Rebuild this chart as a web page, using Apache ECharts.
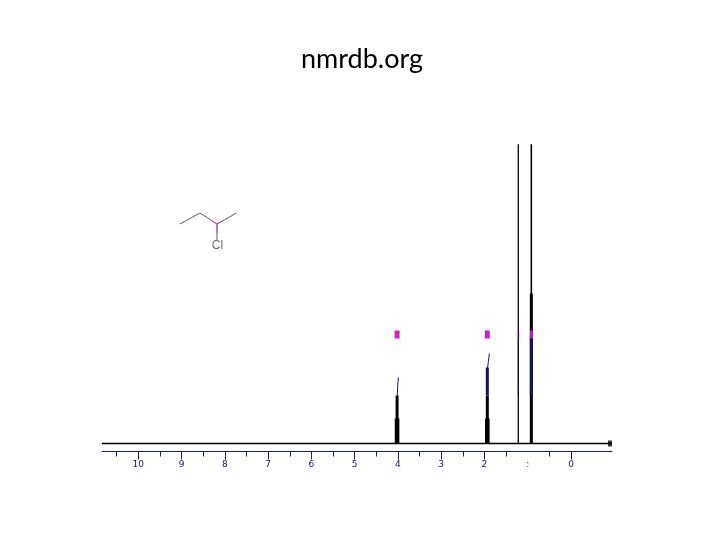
<!DOCTYPE html>
<html><head><meta charset="utf-8">
<style>html,body{margin:0;padding:0;background:#fff}#c{width:720px;height:540px}</style>
<script src="https://cdn.jsdelivr.net/npm/echarts@6/dist/echarts.min.js"></script>
</head><body><div id="c"></div>
<script>
// Chemical shift ticks (ppm) and labels
const majorTicks = [10, 9, 8, 7, 6, 5, 4, 3, 2, 0];
const minorTicks = [10.5, 9.5, 8.5, 7.5, 6.5, 5.5, 4.5, 3.5, 2.5, 1.5, 0.5];
const labelValues = [10, 9, 8, 7, 6, 5, 4, 3, 2, 1, 0];
const labelTexts = ['10', '9', '8', '7', '6', '5', '4', '3', '2', ':', '0'];
// Peaks: [ppm, intensity from, intensity to]
const sharpPeaks = [[1.218, 0, 400], [0.917, 0, 400]];
const bodyPeaks = [[4.02, 0, 48], [1.934, 0, 48]];
const footPeaks = [[4.02, 0, 25], [1.934, 0, 25]];
const tallFoot = [[0.917, 0, 150]];
const integralBars = [[1.934, 48, 76], [0.917, 48, 104]];
const faintIntegral = [[1.218, 48, 104]];
const integralCurves = [[[4.015, 48], [4.005, 58], [3.99, 66]], [[1.93, 75], [1.91, 82], [1.885, 90]]];
const baseline = [[10.84, 0], [-0.9475, 0]];
const endMarker = [[-0.9, 0]];
const peakMarks = [[4.02, 109], [1.934, 109]];
const weakMarks = [[0.917, 109]];
const faintMarks = [[1.218, 109]];
// Structure of 2-chlorobutane, drawn in its own unit scale
const bondsBlack = [[[0, 11], [20, 0], [37, 11], [56.5, 0]], [[37, 11], [37, 27]]];
const bondsPink = [[[31, 7.5], [37, 11], [43, 7.5]], [[37, 11], [37, 20]]];
const atomLabel = [[37.5, 33]];

const segs = a => a.flatMap(p => [[p[0], p[1]], [p[0], p[2]], ['-', '-']]);
const paths = a => a.flatMap(p => [...p, ['-', '-']]);
const line = (data, color, width, extra) => Object.assign({
  type: 'line', data, symbol: 'none', silent: true, animation: false, connectNulls: false,
  lineStyle: { color, width, cap: 'butt', join: 'miter' }, clip: true
}, extra || {});
const mark = (data, color, opacity, w) => ({
  type: 'scatter', data, symbol: 'rect', symbolSize: [w, 8], silent: true, animation: false, z: 5,
  itemStyle: { color, opacity }
});
const mol = { xAxisIndex: 3, yAxisIndex: 1 };
const xMin = -0.9475, xMax = 10.84;
const navy = '#1a1a6e';

const hiddenLine = { show: false, onZero: false };
const chart = echarts.init(document.getElementById('c'), null, { renderer: 'canvas' });
chart.setOption({
  backgroundColor: '#ffffff',
  animation: false,
  title: {
    text: 'nmrdb.org', left: 296, top: 41,
    textStyle: { fontFamily: 'Lato', fontSize: 27, fontWeight: 'normal', color: '#000000' }
  },
  grid: [
    { left: 102, right: 108, top: 145, bottom: 88.5 },
    { left: 180, top: 213, width: 57, height: 40 }
  ],
  xAxis: [
    {
      type: 'value', gridIndex: 0, inverse: true, min: xMin, max: xMax, position: 'bottom',
      axisLine: { onZero: false, lineStyle: { color: navy, width: 1 } },
      axisTick: { show: false },
      axisLabel: {
        show: true, color: '#14146a', fontFamily: 'DejaVu Sans', fontSize: 9, margin: 9,
        customValues: labelValues,
        formatter: v => labelTexts[labelValues.indexOf(v)]
      },
      splitLine: { show: false }
    },
    {
      type: 'value', gridIndex: 0, inverse: true, min: xMin, max: xMax, position: 'bottom',
      axisLine: hiddenLine,
      axisTick: { show: true, length: 8, lineStyle: { color: navy, width: 1 }, customValues: majorTicks },
      axisLabel: { show: false }, splitLine: { show: false }
    },
    {
      type: 'value', gridIndex: 0, inverse: true, min: xMin, max: xMax, position: 'bottom',
      axisLine: hiddenLine,
      axisTick: { show: true, length: 5, lineStyle: { color: navy, width: 1 }, customValues: minorTicks },
      axisLabel: { show: false }, splitLine: { show: false }
    },
    { type: 'value', gridIndex: 1, min: 0, max: 57, show: false }
  ],
  yAxis: [
    { type: 'value', gridIndex: 0, min: -8, max: 298.5, show: false },
    { type: 'value', gridIndex: 1, min: 0, max: 40, inverse: true, show: false }
  ],
  series: [
    line(baseline, '#000000', 1.5),
    line(segs(sharpPeaks.slice(0, 1)), '#000000', 1.3),
    line(segs(sharpPeaks.slice(1)), '#000000', 1.6),
    line(segs(bodyPeaks), '#000000', 3),
    line(segs(footPeaks), '#000000', 4.6),
    line(segs(tallFoot), '#000000', 3),
    line(segs(integralBars), '#10106e', 3),
    line(segs(faintIntegral), '#10106e', 1),
    line(paths(integralCurves), '#10106e', 1),
    { type: 'scatter', data: endMarker, symbol: 'rect', symbolSize: [4, 6], silent: true, z: 5, itemStyle: { color: '#000000' } },
    mark(peakMarks, '#d020d0', 1, 5),
    mark(weakMarks, '#d020d0', 0.9, 3),
    mark(faintMarks, '#d020d0', 0.15, 4),
    line(paths(bondsBlack), '#333333', 0.8, mol),
    line(paths(bondsPink), '#c050c0', 1, mol),
    {
      type: 'scatter', xAxisIndex: 3, yAxisIndex: 1, data: atomLabel, symbolSize: 0, silent: true,
      label: { show: true, position: 'inside', formatter: 'Cl', color: '#444444', fontFamily: 'Liberation Sans', fontSize: 12 }
    }
  ]
});
</script></body></html>
